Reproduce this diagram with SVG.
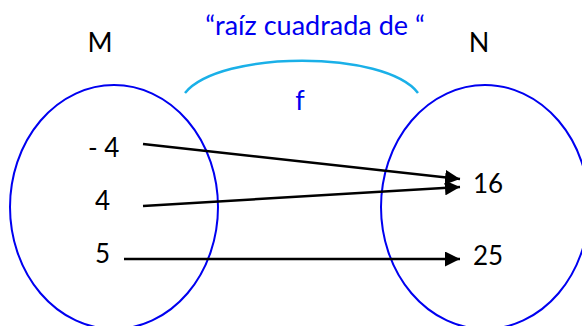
<svg xmlns="http://www.w3.org/2000/svg" width="582" height="326" viewBox="0 0 582 326">
<defs>
<style>
.set{fill:none;stroke:#0000F0;stroke-width:2}
.lbl{font-family:Lato,"Liberation Sans",sans-serif;font-size:27px;fill:#000}
.blue{font-family:Lato,"Liberation Sans",sans-serif;font-size:27px;fill:#0000F0}
.num{font-family:Lato,"Liberation Sans",sans-serif;font-size:26px;fill:#000}
.arr{stroke:#000;stroke-width:2.5;fill:none;marker-end:url(#ah)}
</style>
<marker id="ah" markerUnits="userSpaceOnUse" markerWidth="15" markerHeight="15" refX="15" refY="7.5" orient="auto" viewBox="0 0 15 15">
<path d="M0,0 L15,7.5 L0,15 z" fill="#000"/>
</marker>
</defs>
<g id="title">
<text class="blue" x="315" y="35" text-anchor="middle" font-size="28.5">“raíz cuadrada de “</text>
</g>
<g id="f-arc">
<path d="M185,93 C220,50 385,50 418,93" fill="none" stroke="#1AB0E8" stroke-width="2.5"/>
<text class="blue" x="300" y="110" text-anchor="middle">f</text>
</g>
<g id="set-M">
<ellipse class="set" cx="114" cy="207" rx="104" ry="122"/>
<text class="lbl" x="100" y="52" text-anchor="middle">M</text>
<text class="num" x="88" y="157">- 4</text>
<text class="num" x="95" y="210">4</text>
<text class="num" x="95" y="263">5</text>
</g>
<g id="set-N">
<ellipse class="set" cx="485" cy="207" rx="104" ry="122"/>
<text class="lbl" x="479" y="52" text-anchor="middle">N</text>
<text class="num" x="473" y="193">16</text>
<text class="num" x="473" y="265">25</text>
</g>
<g id="connectors">
<line class="arr" x1="143" y1="144" x2="460" y2="179"/>
<line class="arr" x1="143" y1="206" x2="460" y2="187"/>
<line class="arr" x1="124" y1="259" x2="460" y2="259"/>
</g>
</svg>
